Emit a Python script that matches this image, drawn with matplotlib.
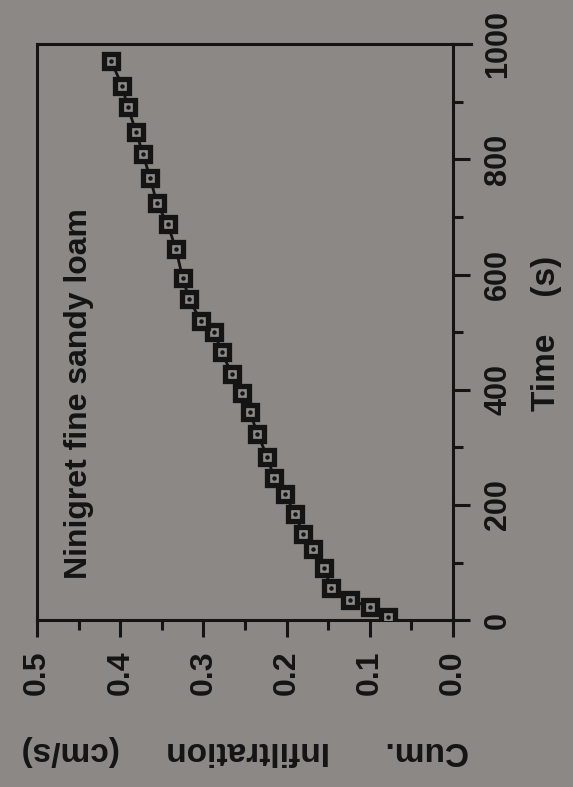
import matplotlib
matplotlib.use("Agg")
from matplotlib import pyplot as plt
from matplotlib.ticker import MultipleLocator

# cumulative infiltration vs time
time_s = [6, 23, 35, 55, 90, 124, 150, 185, 219, 247, 283, 324, 361, 395,
          428, 465, 501, 519, 557, 594, 644, 687, 724, 767, 810, 848, 890,
          928, 970]
cum_infil = [0.078, 0.100, 0.124, 0.146, 0.155, 0.168, 0.180, 0.190, 0.202,
             0.215, 0.223, 0.235, 0.244, 0.253, 0.266, 0.278, 0.287, 0.303,
             0.317, 0.325, 0.333, 0.343, 0.356, 0.364, 0.373, 0.381, 0.391,
             0.398, 0.411]

infil_ticks = [0.0, 0.1, 0.2, 0.3, 0.4, 0.5]
infil_labels = ["0.0", "0.1", "0.2", "0.3", "0.4", "0.5"]
time_ticks = [0, 200, 400, 600, 800, 1000]
time_labels = ["0", "200", "400", "600", "800", "1000"]

bg = "#8b8885"
ink = "#141414"

plt.rcParams['font.family'] = ['Liberation Sans', 'DejaVu Sans']

fig = plt.figure(figsize=(5.73, 7.87), dpi=100, facecolor=bg)
# the page is turned: time runs up the right side, infiltration along the bottom
ax = fig.add_axes([0.065, 0.212, 0.725, 0.732], facecolor=bg)

ax.plot(cum_infil, time_s, color=ink, lw=2, marker="s", ms=9.5,
        mfc=bg, mec=ink, mew=3.8, zorder=3)
ax.plot(cum_infil, time_s, ls="none", marker="o", ms=2.2, color=ink, zorder=4)

ax.set_xlim(0.5, 0.0)
ax.set_ylim(0, 1000)

ax.set_xticks(infil_ticks)
ax.set_xticklabels(infil_labels, rotation=90, fontsize=23, fontweight="bold",
                   color=ink)
ax.xaxis.set_minor_locator(MultipleLocator(0.05))

ax.yaxis.tick_right()
ax.set_yticks(time_ticks)
ax.set_yticklabels(time_labels, rotation=90, va="center", fontsize=22,
                   fontweight="bold", color=ink)
ax.yaxis.set_minor_locator(MultipleLocator(100))

ax.tick_params(which="major", direction="out", length=12, width=2.2,
               color=ink, pad=10)
ax.tick_params(which="minor", direction="out", length=7, width=2.2, color=ink)
ax.tick_params(axis="y", which="both", left=False, right=True)
ax.tick_params(axis="x", which="both", top=False, bottom=True)

for side in ["left", "top", "right", "bottom"]:
    ax.spines[side].set_linewidth(2.2)
    ax.spines[side].set_color(ink)

ax.set_xlabel("Cum.      Infiltration     (cm/s)", rotation=180, fontsize=24,
              fontweight="bold", color=ink, va="center", ha="center")
ax.xaxis.set_label_coords(0.5, -0.226)

ax.yaxis.set_label_position("right")
ax.set_ylabel("Time    (s)", rotation=90, fontsize=24, fontweight="bold",
              color=ink, va="center", ha="center")
ax.yaxis.set_label_coords(1.227, 0.497)

ax.text(0.10, 0.394, "Ninigret fine sandy loam", rotation=90,
        transform=ax.transAxes, fontsize=23, fontweight="bold", color=ink,
        ha="center", va="center")

# top rule runs a little past the right axis in the scan
ax.plot([1.0, 1.045], [1.0, 1.0], transform=ax.transAxes, color=ink,
        lw=2.2, clip_on=False)

fig.savefig("out.png", dpi=100, facecolor=bg)
